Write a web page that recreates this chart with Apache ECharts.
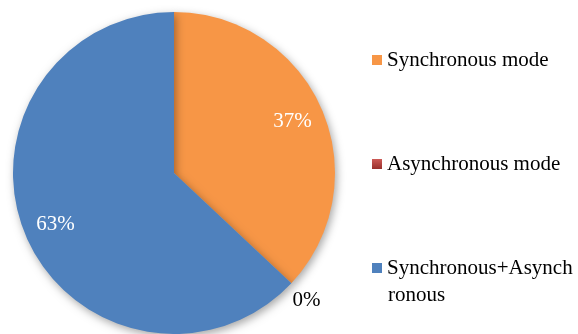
<!DOCTYPE html>
<html>
<head>
<meta charset="utf-8">
<script src="https://cdn.jsdelivr.net/npm/echarts@6/dist/echarts.min.js"></script>
<style>
  html, body { margin: 0; padding: 0; background: #fff; }
  #chart { width: 578px; height: 334px; }
</style>
</head>
<body>
<div id="chart"></div>
<script>
// Share of each transfer mode
const modes = ['Synchronous mode', 'Asynchronous mode', 'Synchronous+Asynchronous'];
const shares = [37, 0, 63];
const colors = ['#F79646', '#C0504D', '#4F81BD'];

const FONT = '"Liberation Serif", "Times New Roman", serif';

const chart = echarts.init(document.getElementById('chart'));

const redFill = new echarts.graphic.LinearGradient(0, 0, 0, 1, [
  { offset: 0, color: '#CD5A56' },
  { offset: 1, color: '#98302C' }
]);

function sliceData(withLabels) {
  return modes.map((name, i) => {
    const item = {
      name: name,
      value: shares[i],
      itemStyle: { color: i === 1 ? redFill : colors[i] }
    };
    if (withLabels && shares[i] === 0) {
      item.label = { position: 'outside', color: '#000' };
      item.labelLine = { show: false, length: 25, length2: 0 };
    }
    return item;
  });
}

chart.setOption({
  animation: false,
  legend: {
    orient: 'vertical',
    left: 367,
    top: 43,
    itemWidth: 10,
    itemHeight: 10,
    itemGap: 80,
    icon: 'rect',
    selectedMode: false,
    data: modes,
    textStyle: { fontFamily: FONT, fontSize: 21, color: '#000', lineHeight: 24 },
    formatter: function (name) {
      return name === modes[2] ? 'Synchronous+Asynch' : name;
    }
  },
  graphic: [{
    type: 'text',
    left: 388,
    top: 285,
    style: { text: 'ronous', font: '21px ' + FONT, fill: '#000' }
  }],
  series: [
    {
      // the filled pie
      type: 'pie',
      center: [174, 173],
      radius: [0, 161],
      startAngle: 90,
      clockwise: true,
      silent: true,
      label: { show: false },
      labelLine: { show: false },
      itemStyle: {
        borderWidth: 0,
        shadowBlur: 8,
        shadowOffsetX: 2,
        shadowOffsetY: 3,
        shadowColor: 'rgba(0,0,0,0.35)'
      },
      data: sliceData(false)
    },
    {
      // transparent ring that carries the percentage labels
      type: 'pie',
      center: [174, 173],
      radius: [91, 161],
      startAngle: 90,
      clockwise: true,
      silent: true,
      itemStyle: { opacity: 0 },
      label: {
        show: true,
        position: 'inside',
        formatter: '{d}%',
        fontFamily: FONT,
        fontSize: 21,
        color: '#fff',
        opacity: 1
      },
      labelLayout: function (p) {
        if (shares[p.dataIndex] === 0) {
          return { dx: -p.labelRect.width / 2 - 8 };
        }
      },
      data: sliceData(true)
    }
  ]
});
</script>
</body>
</html>
